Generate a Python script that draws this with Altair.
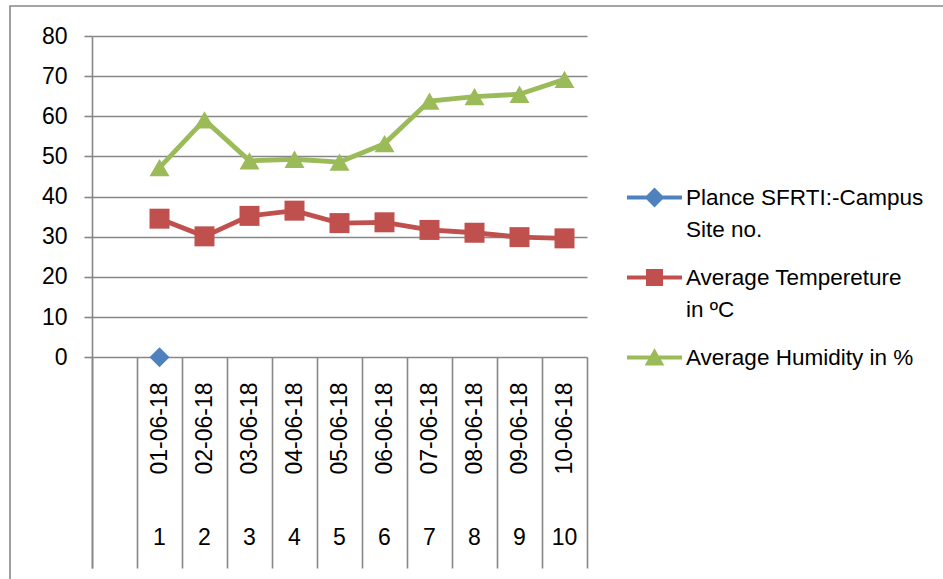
import json

import altair as alt
import pandas as pd

# ---- data -------------------------------------------------------------
dates = ["01-06-18", "02-06-18", "03-06-18", "04-06-18", "05-06-18",
         "06-06-18", "07-06-18", "08-06-18", "09-06-18", "10-06-18"]
site_nos = ["1", "2", "3", "4", "5", "6", "7", "8", "9", "10"]
site_series = [0]  # only the first day carries a value
temperature = [34.5, 30.1, 35.2, 36.5, 33.4, 33.6, 31.7, 31.0, 29.9, 29.6]
humidity = [47.2, 59.1, 48.9, 49.3, 48.6, 53.2, 63.8, 64.9, 65.5, 69.2]
y_ticks = [0, 10, 20, 30, 40, 50, 60, 70, 80]

series_names = ["Plance SFRTI:-Campus Site no.",
                "Average Tempereture in ºC",
                "Average Humidity in %"]
legend_lines = {
    series_names[0]: ["\u00a0Plance SFRTI:-Campus", "Site no."],
    series_names[1]: ["Average Tempereture", "in ºC"],
    series_names[2]: ["Average Humidity in %"],
}
colors = ["#4F81BD", "#C0504D", "#9BBB59"]
markers = ["diamond", "square", "triangle-up"]

# legend glyphs: a short line with the marker in its middle (unit box [-1, 1])
legend_paths = [
    "M-1,-0.07H1V0.07H-1Z M-0.36,0L0,-0.36L0.36,0L0,0.36Z",
    "M-1,-0.07H1V0.07H-1Z M-0.31,-0.31H0.31V0.31H-0.31Z",
    "M-1,-0.07H1V0.07H-1Z M0,-0.34L0.36,0.29H-0.36Z",
]

rows = []
for i, d in enumerate(dates):
    if i < len(site_series):
        rows.append(dict(date=d, series=series_names[0], value=site_series[i], marker=markers[0]))
    rows.append(dict(date=d, series=series_names[1], value=temperature[i], marker=markers[1]))
    rows.append(dict(date=d, series=series_names[2], value=humidity[i], marker=markers[2]))
df = pd.DataFrame(rows)

# ---- styling ----------------------------------------------------------
FONT = "Liberation Sans"
GRID = "#878787"
PLOT_W, PLOT_H = 495, 532
TABLE_H = 211  # depth of the category table under the zero line

x_scale = alt.Scale(type="band", domain=[""] + dates, paddingInner=0, paddingOuter=0)
y_scale = alt.Scale(domain=[-52.5, 80], nice=False, zero=False)
color_scale = alt.Scale(domain=series_names, range=colors)

y_axis = alt.Axis(values=y_ticks, grid=True, gridColor=GRID, gridWidth=1.6,
                  domainColor=GRID, domainWidth=1.6, tickColor=GRID, tickWidth=1.6,
                  tickSize=8, labelFont=FONT, labelFontSize=23, labelColor="#000",
                  labelPadding=17, title=None)
y_enc = alt.Y("value:Q", scale=y_scale, axis=y_axis)

# dates, rotated, with the column separators of the category table
date_axis = alt.Axis(orient="bottom", offset=-TABLE_H, tickBand="extent",
                     ticks=True, tickSize=TABLE_H, tickColor=GRID, tickWidth=1.6,
                     domain=False, grid=False, labelAngle=270, labelAlign="right",
                     labelBaseline="middle", labelPadding=-186, labelFont=FONT,
                     labelFontSize=23, labelColor="#000", labelOverlap=False,
                     title=None)
# site numbers on the second row of the table
num_map = json.dumps(dict(zip(dates, site_nos)))
num_axis = alt.Axis(orient="bottom", offset=-TABLE_H, ticks=False, tickSize=0,
                    domain=False, grid=False, labelAngle=0, labelBaseline="middle",
                    labelPadding=180, labelFont=FONT, labelFontSize=23,
                    labelColor="#000", labelOverlap=False,
                    labelExpr=f"{num_map}[datum.value] || ''", title=None)

legend = alt.Legend(orient="none", legendX=535, legendY=134, padding=0,
                    rowPadding=9, title=None, labelFont=FONT, labelFontSize=22.5,
                    labelColor="#000", labelOffset=4, labelLimit=0,
                    labelExpr=f"{json.dumps(legend_lines, ensure_ascii=False)}[datum.value]",
                    symbolSize=3025, symbolStrokeWidth=0, symbolOpacity=1)

base = alt.Chart(df)

frame = alt.Chart(alt.Data(values=[{}])).mark_rect(
    fill="white", fillOpacity=0, stroke=GRID, strokeWidth=1.6
).encode(x=alt.value(-82), x2=alt.value(900), y=alt.value(-30), y2=alt.value(600))

lines = base.mark_line(strokeWidth=4.8).encode(
    x=alt.X("date:N", scale=x_scale, axis=date_axis),
    y=y_enc,
    color=alt.Color("series:N", scale=color_scale, legend=None),
    detail="series:N",
)

points = base.mark_point(filled=True, size=400, opacity=1).encode(
    x=alt.X("date:N", scale=x_scale, axis=num_axis),
    y=y_enc,
    color=alt.Color("series:N", scale=color_scale, legend=None),
    shape=alt.Shape("marker:N", scale=None),
)

# draws nothing itself; it only carries the legend
legend_layer = base.transform_filter("false").mark_point(filled=True, opacity=1).encode(
    x=alt.X("date:N", scale=x_scale, axis=None),
    y=y_enc,
    color=alt.Color("series:N", scale=color_scale, legend=legend),
    shape=alt.Shape("series:N", scale=alt.Scale(domain=series_names, range=legend_paths),
                    legend=legend),
)

chart = (
    alt.layer(frame, lines, points, legend_layer)
    .resolve_axis(x="independent")
    .resolve_legend(color="independent", shape="independent")
    .properties(
        width=PLOT_W, height=PLOT_H,
        autosize=alt.AutoSizeParams(type="none"),
        padding={"left": 92, "top": 36, "right": 356, "bottom": 11},
        background="white",
    )
    .configure(view=alt.ViewConfig(stroke=None),
               style={"guide-label": {"lineHeight": 32}})
)

chart.save("out.html", embed_options={"renderer": "svg", "actions": False})
